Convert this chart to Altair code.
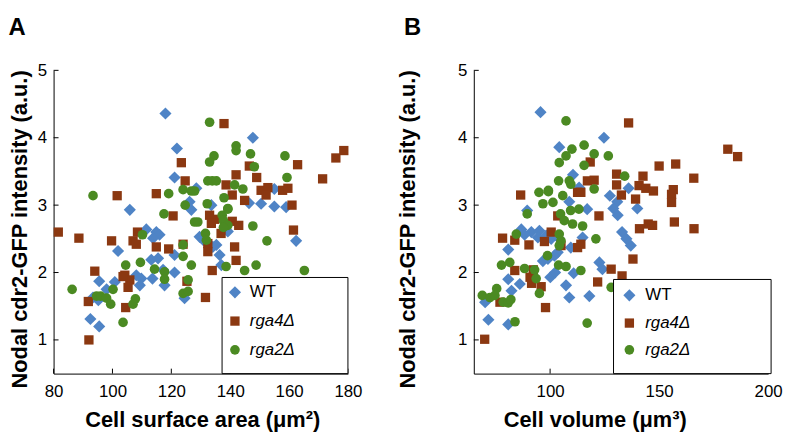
import altair as alt
import pandas as pd

# ---------------- Panel A: cell surface area ----------------
a_wt_x = [118, 121.9, 121.1, 126.2, 105.9, 147.7, 128.5, 133.6, 150.5, 155, 155, 146.4, 126.8, 111.5, 114.9,
          116, 113.8, 121.1, 101.9, 113.2, 115.5, 117.2, 121.1, 108.1, 109.8, 109.3, 113.6, 117.7, 95.5, 100.8,
          98, 95.2, 93.4, 124.5, 92.5, 95.5, 139.2, 162.4, 129.6, 131.3, 134.1, 136.4, 135.3, 137, 159]
a_wt_y = [4.36, 3.84, 3.41, 3.05, 2.93, 4.0, 3.25, 3.0, 3.02, 2.98, 3.24, 3.03, 2.93, 2.64, 2.6,
          2.56, 2.51, 2.26, 2.32, 2.19, 2.21, 2.04, 2.0, 1.96, 1.91, 1.81, 1.91, 1.81, 1.87, 1.86,
          1.75, 1.59, 1.63, 1.62, 1.31, 1.2, 2.61, 2.47, 2.53, 2.46, 2.38, 2.26, 2.41, 2.11, 2.97]

a_r4_x = [123.4, 124.7, 101.6, 114.9, 137.9, 162.9, 146.5, 142, 149, 171.4, 138.6, 140.7, 144.9, 150.5, 152.8,
          152.2, 157.8, 159.6, 161, 120.6, 88.6, 99.7, 108.5, 107, 108.1, 114.9, 119.1, 124, 104.2, 105.9,
          103.6, 105.3, 94, 91.8, 104.5, 125.3, 133, 134.7, 133.6, 140.7, 142.9, 136.9, 161.5, 132.4, 132.4,
          141.5, 142, 133.9, 131.6, 175.9, 178.6, 81.6, 92]
a_r4_y = [3.63, 3.36, 3.14, 3.17, 4.21, 3.6, 3.58, 3.45, 3.41, 3.39, 3.3, 3.15, 3.07, 3.22, 3.26,
          3.15, 3.22, 3.25, 3.0, 2.84, 2.51, 2.47, 2.6, 2.47, 2.42, 2.38, 2.35, 2.42, 1.96, 1.89,
          1.94, 1.78, 2.02, 1.57, 1.48, 1.87, 2.85, 2.79, 2.73, 2.76, 2.7, 2.58, 2.63, 2.43, 2.31,
          2.38, 2.18, 2.03, 1.63, 3.7, 3.81, 2.6, 1.0]

a_r2_x = [93.4, 119.1, 124, 126.8, 127.9, 124.7, 133, 142, 142, 134.5, 133, 146.9, 158.6, 148.2, 159.3,
          132.4, 133.9, 135.3, 141.5, 144.3, 137.9, 132.2, 139.2, 117.5, 127.9, 110.2, 124, 124, 126.8, 109.5,
          104.5, 114.3, 117.7, 117.7, 86.3, 100.2, 94.6, 96, 98, 99.4, 107.8, 107, 124, 103.6, 137.3,
          139.2, 137.7, 129, 139.2, 137.7, 147.7, 152.5, 131.6, 131.9, 138.6, 144.9, 148.8, 165.2, 125.7, 125.7]
a_r2_y = [3.14, 3.17, 3.23, 3.21, 3.21, 3.0, 4.23, 3.88, 3.81, 3.73, 3.64, 3.76, 3.73, 3.57, 3.41,
          3.36, 3.36, 3.36, 3.3, 3.24, 3.11, 3.02, 2.95, 2.87, 2.75, 2.56, 2.41, 2.24, 2.11, 2.15,
          2.11, 2.05, 2.01, 1.9, 1.75, 1.75, 1.65, 1.65, 1.62, 1.53, 1.61, 1.53, 1.69, 1.26, 2.85,
          2.94, 2.77, 2.75, 2.7, 2.67, 2.69, 2.47, 2.58, 2.48, 2.09, 2.03, 2.11, 2.03, 1.89, 1.72]

# ---------------- Panel B: cell volume ----------------
b_wt_x = [95.6, 104.2, 110.5, 113.3, 108.8, 124.7, 136, 127.4, 130.8, 89.5, 117, 86.8, 91.4, 95.1, 88.3,
          94.4, 80.8, 98.2, 100.5, 104.2, 109.5, 114.9, 103.5, 102, 96.7, 99, 110.8, 80.8, 86.1, 82.3,
          100.1, 102.3, 107.3, 108.8, 70.2, 71.7, 80.8, 122.6, 129, 131, 133, 137, 135, 124, 118, 140]
b_wt_y = [4.38, 3.86, 3.45, 3.26, 3.05, 4.0, 3.25, 3.14, 3.05, 2.92, 2.94, 2.64, 2.6, 2.62, 2.56,
          2.52, 2.34, 2.55, 2.5, 2.5, 2.37, 2.52, 2.3, 2.25, 2.17, 2.2, 1.99, 1.9, 1.83, 1.73,
          1.93, 2.0, 1.81, 1.63, 1.56, 1.3, 1.23, 2.15, 2.95, 2.85, 2.6, 2.4, 2.5, 2.05, 1.65, 2.95]

b_r4_x = [118.4, 86.5, 112.6, 117.1, 136, 181.5, 186, 150, 157.6, 165.9, 130.5, 130.5, 120.2, 142.6, 140.8,
          143.9, 147.4, 156.5, 155.7, 132.7, 139.2, 155.7, 114.1, 103.5, 78.2, 83.8, 100.5, 97.4, 90.3, 105,
          112.6, 114.1, 122.4, 83.8, 92.3, 90.8, 91.5, 95.9, 121.8, 77, 97.9, 70, 166, 145, 147,
          141, 128, 133, 138, 157]
b_r4_y = [3.64, 3.15, 3.19, 3.36, 4.22, 3.83, 3.72, 3.58, 3.61, 3.4, 3.46, 3.3, 3.37, 3.43, 3.29,
          3.25, 3.21, 3.23, 3.16, 3.15, 3.09, 3.04, 3.19, 2.84, 2.51, 2.48, 2.6, 2.46, 2.41, 2.4,
          2.37, 2.42, 2.84, 2.03, 2.04, 1.93, 1.84, 1.79, 1.86, 1.56, 1.48, 1.01, 2.65, 2.72, 2.7,
          2.65, 2.05, 1.95, 2.2, 2.75]

b_r2_x = [107.3, 110, 107.3, 115.6, 104.2, 115.6, 103.9, 108.8, 109.5, 94.9, 99.2, 99.2, 105.8, 96.7, 101.3,
          120.2, 126.7, 134.2, 120.2, 89.5, 104.8, 109.4, 113.2, 106.5, 110.3, 114.9, 84.5, 104.2, 105, 104.2,
          121, 98.8, 77.7, 81.5, 88.3, 92.9, 103.9, 107.3, 114.1, 93.6, 95.1, 68.9, 72.4, 75.5, 74.7,
          78.5, 80.8, 82, 83.9, 117, 128]
b_r2_y = [4.25, 3.83, 3.73, 3.89, 3.63, 3.59, 3.36, 3.36, 3.31, 3.19, 3.22, 3.2, 3.14, 3.02, 3.04,
          3.76, 3.73, 3.43, 3.24, 2.87, 2.87, 2.92, 2.94, 2.77, 2.72, 2.69, 2.57, 2.57, 2.47, 2.4,
          2.5, 2.25, 2.11, 2.15, 2.06, 2.04, 2.11, 2.09, 2.03, 1.91, 1.69, 1.66, 1.63, 1.76, 1.66,
          1.56, 1.55, 1.6, 1.27, 1.25, 1.78]

series_labels = ["WT", "rga4\u0394", "rga2\u0394"]
y_ticks = [1, 2, 3, 4, 5]
a_x_ticks = [80, 100, 120, 140, 160, 180]
b_x_ticks = [100, 150, 200]

FONT = "Liberation Sans"
BLUE = "#4f84c6"
BROWN = "#8b3811"
GREEN = "#4b8a22"
SHAPES = [("diamond", BLUE, 150), ("square", BROWN, 88), ("circle", GREEN, 95)]
W, H = 297, 306
Y_TITLE = "Nodal cdr2-GFP intensity (a.u.)"


def panel(data, xdom, xticks, letter, letter_dx, xtitle, xtitle_x, ytitle_pad, legend_box,
          legend_sym_x, legend_text_x, legend_rows):
    xs = alt.Scale(domain=xdom, nice=False, zero=False)
    ys = alt.Scale(domain=[0.5, 5], nice=False, zero=False)
    x_enc = alt.X("x:Q", scale=xs, axis=alt.Axis(values=xticks, title=xtitle, ticks=False, grid=False,
                                                  labelPadding=10, titlePadding=10, labelFlush=False,
                                                  titleFontSize=22, titleX=xtitle_x, titleAlign="center"))
    y_enc = alt.Y("y:Q", scale=ys, axis=alt.Axis(values=y_ticks, title=Y_TITLE, ticks=False, grid=False,
                                                  labelPadding=7, titlePadding=ytitle_pad,
                                                  titleFontSize=22, titleY=H / 2 + 7))
    layers = []
    for (xv, yv), (shape, color, size) in zip(data, SHAPES):
        df = pd.DataFrame({"x": xv, "y": yv})
        layers.append(alt.Chart(df).mark_point(shape=shape, filled=True, color=color, size=size,
                                               opacity=1, strokeWidth=0).encode(x=x_enc, y=y_enc))
    # inward ticks
    xt = pd.DataFrame({"x": xticks})
    layers.append(alt.Chart(xt).mark_rule(color="black", strokeWidth=1).encode(
        x=x_enc, y=alt.value(H), y2=alt.value(H - 5)))
    yt = pd.DataFrame({"y": y_ticks})
    layers.append(alt.Chart(yt).mark_rule(color="black", strokeWidth=1).encode(
        y=y_enc, x=alt.value(0), x2=alt.value(5)))
    # legend box
    one = pd.DataFrame({"d": [0]})
    bx0, by0, bx1, by1 = legend_box
    layers.append(alt.Chart(one).mark_rect(fill="white", stroke="black", strokeWidth=1).encode(
        x=alt.value(bx0), x2=alt.value(bx1), y=alt.value(by0), y2=alt.value(by1)))
    for i, ((shape, color, size), lab) in enumerate(zip(SHAPES, series_labels)):
        ry = legend_rows[i]
        layers.append(alt.Chart(one).mark_point(shape=shape, filled=True, color=color, size=size,
                                                opacity=1, strokeWidth=0).encode(
            x=alt.value(legend_sym_x), y=alt.value(ry)))
        layers.append(alt.Chart(one).mark_text(text=lab, align="left", baseline="middle", font=FONT,
                                               fontSize=17, fontStyle="normal" if i == 0 else "italic",
                                               color="black").encode(
            x=alt.value(legend_text_x), y=alt.value(ry)))
    return alt.layer(*layers).properties(
        width=W, height=H,
        title=alt.TitleParams(letter, anchor="start", font=FONT, fontSize=24, fontWeight="bold",
                              color="black", dx=letter_dx, offset=22))


pa = panel([(a_wt_x, a_wt_y), (a_r4_x, a_r4_y), (a_r2_x, a_r2_y)], [80, 180], a_x_ticks, "A", 0,
           "Cell surface area (\u03bcm\u00b2)", 150, 6, (170, 209, 297, H), 183, 198, [224, 253, 282])
pb = panel([(b_wt_x, b_wt_y), (b_r4_x, b_r4_y), (b_r2_x, b_r2_y)], [65, 200], b_x_ticks, "B", 7,
           "Cell volume (\u03bcm\u00b3)", 122, 38, (141, 211, 300, H), 157, 173, [227, 255, 282])

chart = alt.hconcat(pa, pb, spacing=34).properties(
    padding={"left": 0, "top": 6, "right": 0, "bottom": 0},
    background="white"
).configure_view(stroke=None).configure_axis(
    domainColor="black", domainWidth=1, labelFont=FONT, labelFontSize=17, labelColor="black",
    titleFont=FONT, titleFontWeight="bold", titleColor="black"
)

chart.save("out.html", embed_options={"renderer": "svg", "actions": False})
